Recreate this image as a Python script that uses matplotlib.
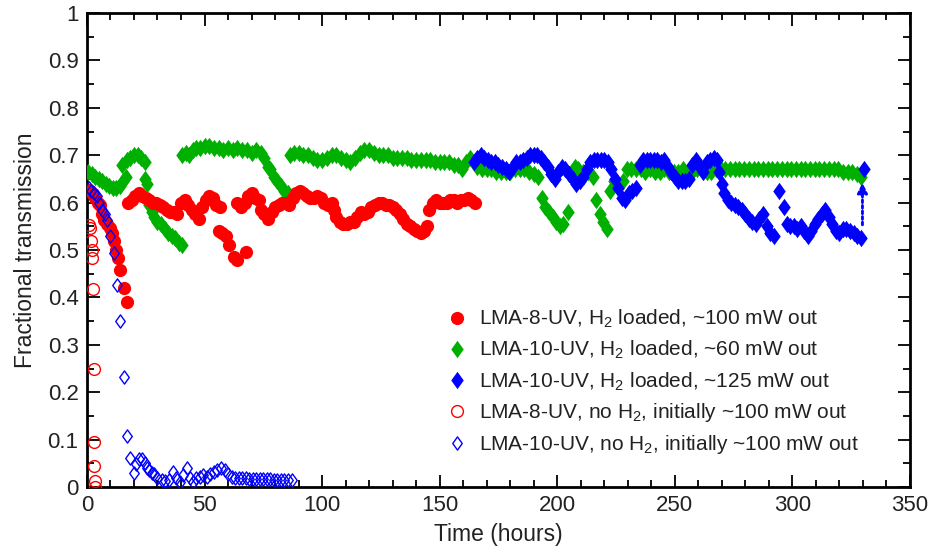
import numpy as np
import matplotlib
matplotlib.use('Agg')
import matplotlib.pyplot as plt
from matplotlib.path import Path
from matplotlib.ticker import MultipleLocator, FuncFormatter

plt.rcParams['font.family'] = ['Liberation Sans', 'DejaVu Sans']
plt.rcParams['mathtext.fontset'] = 'custom'
plt.rcParams['mathtext.rm'] = 'Liberation Sans'
plt.rcParams['mathtext.it'] = 'Liberation Sans'

# ====================================================================
# Data (time in hours, fractional transmission)
# ====================================================================
RED_H2 = [
    (0.7, 0.627), (2, 0.62), (3.5, 0.61), (4.5, 0.60), (5.6, 0.595), (6.5, 0.575),
    (7.1, 0.564), (8.5, 0.555), (9.9, 0.546), (10.6, 0.535), (11.3, 0.52), (12.3, 0.50),
    (13.4, 0.483), (14.1, 0.457), (15.6, 0.42), (17, 0.39),
    (17.5, 0.60), (19, 0.605), (20.5, 0.615), (22, 0.62), (23.5, 0.615), (25, 0.61),
    (26.5, 0.605), (28, 0.60), (29.5, 0.60), (31, 0.595), (32.5, 0.59), (34, 0.585),
    (35.5, 0.58), (37, 0.58), (38.5, 0.575), (40, 0.60), (41.5, 0.605), (43, 0.595),
    (44.5, 0.585), (46, 0.575), (47.5, 0.565), (49, 0.59), (50.5, 0.605), (52, 0.615),
    (53.5, 0.61), (55, 0.595), (56.5, 0.59), (56, 0.54), (57.5, 0.535), (59, 0.53),
    (60.5, 0.51), (62.5, 0.485), (64, 0.48), (67.5, 0.495),
    (64, 0.60), (65.5, 0.59), (67, 0.60), (68.5, 0.615), (70, 0.62), (71.5, 0.61),
    (73, 0.605), (74, 0.585), (75.5, 0.575), (77, 0.565), (78.5, 0.58), (80, 0.59),
    (81.5, 0.595), (83, 0.60), (84.5, 0.60), (86, 0.595), (87.5, 0.61), (89, 0.62),
    (90.5, 0.625), (92, 0.62), (93.5, 0.615), (95, 0.61), (96.5, 0.61), (98, 0.615),
    (99.5, 0.61), (101, 0.60), (102.5, 0.595), (104, 0.60), (105, 0.585), (106, 0.57),
    (107.5, 0.56), (109, 0.555), (110.5, 0.555), (112, 0.56), (113.5, 0.56), (115, 0.57),
    (116.5, 0.58), (118, 0.575), (119.5, 0.58), (121, 0.59), (122.5, 0.595), (124, 0.60),
    (125.5, 0.60), (127, 0.595), (128.5, 0.595), (130, 0.59), (131.5, 0.585), (133, 0.575),
    (134.5, 0.565), (136, 0.555), (137.5, 0.55), (139, 0.545), (140.5, 0.54), (142, 0.535),
    (143.5, 0.54), (144.5, 0.55), (145.5, 0.585), (147, 0.60), (148.5, 0.605), (150, 0.60),
    (151.5, 0.60), (153, 0.60), (154.5, 0.605), (156, 0.605), (157.5, 0.60), (159, 0.605),
    (160.5, 0.605), (162, 0.61), (163.5, 0.605), (165, 0.60),
]

GREEN_H2 = [
    (0.5, 0.665), (2, 0.66), (3.5, 0.655), (5, 0.65), (6.5, 0.645), (8, 0.64),
    (9.5, 0.635), (11, 0.63), (12.5, 0.63), (14, 0.635), (15.5, 0.645), (16.5, 0.655),
    (15, 0.68), (17, 0.69), (18.5, 0.695), (20, 0.70), (21.5, 0.70), (23, 0.695),
    (24.5, 0.685), (24.5, 0.65), (25.5, 0.64),
    (26.5, 0.595), (27.5, 0.58), (28.5, 0.57), (30, 0.56), (31.5, 0.555), (33, 0.545),
    (34.5, 0.535), (36, 0.53), (37.5, 0.525), (39, 0.515), (40.5, 0.51),
    (40.5, 0.70), (42, 0.705), (43.5, 0.70), (45, 0.71), (46.5, 0.715), (48, 0.715),
    (50, 0.72), (52, 0.72), (54, 0.715), (56, 0.715), (58, 0.71), (60, 0.715),
    (62, 0.71), (64, 0.715), (66, 0.71), (68, 0.71), (70, 0.705), (72, 0.71),
    (74, 0.705), (75.5, 0.695), (77, 0.675), (78, 0.67), (79.5, 0.655), (81, 0.645),
    (82.5, 0.635), (84, 0.625), (85.5, 0.62),
    (86.5, 0.70), (88, 0.705), (90, 0.705), (92, 0.70), (94, 0.70), (96, 0.695),
    (98, 0.69), (100, 0.69), (102, 0.695), (104, 0.70), (106, 0.70), (108, 0.695),
    (110, 0.69), (112, 0.685), (114, 0.695), (116, 0.705), (118, 0.71), (120, 0.71),
    (122, 0.705), (124, 0.70), (126, 0.70), (128, 0.70), (130, 0.695), (132, 0.695),
    (134, 0.695), (136, 0.695), (138, 0.69), (140, 0.69), (142, 0.69), (144, 0.69),
    (146, 0.69), (148, 0.685), (150, 0.685), (152, 0.685), (154, 0.685), (156, 0.68),
    (158, 0.68), (159.5, 0.67), (161, 0.685), (163, 0.695),
    (166, 0.675), (168, 0.67), (170, 0.67), (172, 0.67), (174, 0.665), (176, 0.665),
    (178, 0.665), (180, 0.665), (182, 0.67), (184, 0.67), (186, 0.67), (188, 0.665),
    (190, 0.66), (192, 0.655), (193.5, 0.61), (195, 0.59), (196.5, 0.58), (198, 0.57),
    (199.5, 0.56), (201, 0.55), (202.5, 0.555), (204.5, 0.58), (207.5, 0.675),
    (209, 0.67), (211, 0.665), (213, 0.665), (215, 0.655), (216.5, 0.605),
    (218, 0.575), (219.5, 0.56), (221, 0.545), (222.5, 0.625), (224, 0.645),
    (226, 0.635), (228, 0.645), (229.5, 0.67), (231.5, 0.67), (233.5, 0.67),
    (235.5, 0.67), (237.5, 0.665), (239.5, 0.67), (241.5, 0.665), (243.5, 0.665),
    (245.5, 0.67), (247.5, 0.665), (249.5, 0.665), (251.5, 0.665), (253.5, 0.67),
    (255.5, 0.665), (257.5, 0.665), (259.5, 0.67), (261.5, 0.67), (263.5, 0.665),
    (265.5, 0.665), (267.5, 0.67), (269.5, 0.67), (271.5, 0.67), (273.5, 0.67),
    (275.5, 0.67), (277.5, 0.67), (279.5, 0.67), (281.5, 0.67), (283.5, 0.67),
    (285.5, 0.67), (287.5, 0.67), (289.5, 0.67), (291.5, 0.67), (293.5, 0.67),
    (295.5, 0.67), (297.5, 0.67), (299.5, 0.67), (301.5, 0.67), (303.5, 0.67),
    (305.5, 0.67), (307.5, 0.67), (309.5, 0.67), (311.5, 0.67), (313.5, 0.67),
    (315.5, 0.67), (317.5, 0.67), (319.5, 0.67), (321.5, 0.665), (323.5, 0.665),
    (325.5, 0.665), (327.5, 0.66), (329, 0.655),
]

BLUE_H2 = [
    (164.5, 0.685), (166, 0.695), (167.5, 0.70), (169, 0.695), (170.5, 0.69), (172, 0.685),
    (173.5, 0.685), (175, 0.68), (176.5, 0.675), (178, 0.67), (179.5, 0.665), (181, 0.675),
    (182.5, 0.685), (184, 0.685), (185.5, 0.69), (187, 0.695), (188.5, 0.70), (190, 0.70),
    (191.5, 0.70), (193, 0.695), (194.5, 0.685), (196, 0.675), (197.5, 0.66), (199, 0.65),
    (200.5, 0.665), (202, 0.675), (203.5, 0.67), (205, 0.66), (206.5, 0.65), (208, 0.64),
    (209.5, 0.645), (211, 0.655), (212.5, 0.67), (214, 0.685), (215.5, 0.69), (217, 0.69),
    (218.5, 0.69), (220, 0.69), (221.5, 0.685), (223, 0.67), (224.5, 0.65), (226, 0.63),
    (227.5, 0.61), (229, 0.605), (230.5, 0.62), (232, 0.625), (233.5, 0.63), (235, 0.68),
    (236.5, 0.69), (238, 0.69), (239.5, 0.69), (241, 0.69), (242.5, 0.69), (244, 0.685),
    (245.5, 0.69), (247, 0.675), (248.5, 0.665), (250, 0.655), (251.5, 0.645), (253, 0.645),
    (254.5, 0.645), (256, 0.65), (257.5, 0.68), (259, 0.69), (260.5, 0.675), (262, 0.665),
    (263.5, 0.685), (265, 0.69), (266.5, 0.695), (268, 0.69), (269, 0.665), (270, 0.64),
    (271, 0.62), (272.5, 0.605), (274, 0.60), (275.5, 0.595), (277, 0.59), (278.5, 0.585),
    (280, 0.575), (281.5, 0.565), (283, 0.56), (284.5, 0.555), (286, 0.565), (287.5, 0.575),
    (289, 0.55), (290.5, 0.535), (292, 0.53), (294.5, 0.625), (296.5, 0.59), (297.5, 0.555),
    (299, 0.55), (300.5, 0.55), (302, 0.545), (303.5, 0.55), (305, 0.54), (306.5, 0.53),
    (308, 0.54), (309.5, 0.555), (311, 0.565), (312.5, 0.575), (314, 0.585), (315.5, 0.57),
    (317, 0.555), (318.5, 0.54), (320, 0.535), (321.5, 0.545), (323, 0.545), (324.5, 0.54),
    (326, 0.535), (327.5, 0.53), (329, 0.525), (330.5, 0.67),
]

RED_NO_H2 = [
    (1.0, 0.553), (1.3, 0.546), (1.8, 0.52), (2.0, 0.50), (2.2, 0.483), (2.4, 0.417),
    (2.8, 0.25), (3.0, 0.094), (3.2, 0.045), (3.4, 0.013), (3.6, 0.0),
]

BLUE_NO_H2 = [
    (0.8, 0.63), (1.9, 0.625), (3, 0.62), (4.2, 0.613), (5.3, 0.60), (6.4, 0.585),
    (7.5, 0.575), (8.5, 0.563), (9.9, 0.53), (11.3, 0.493), (12.7, 0.426), (14.1, 0.35),
    (15.6, 0.232), (17, 0.108), (18.4, 0.062), (19.8, 0.03), (21, 0.048), (22, 0.06),
    (23.3, 0.059), (24.5, 0.05), (25.4, 0.04), (26.5, 0.035), (27.5, 0.03), (28.4, 0.027),
    (30, 0.02), (31.8, 0.015), (33, 0.013), (34.7, 0.015), (36.7, 0.032), (38, 0.02),
    (39.5, 0.01), (41, 0.025), (42.5, 0.04), (44, 0.02), (45, 0.01), (46.5, 0.018),
    (48, 0.022), (49.5, 0.025), (51, 0.022), (52.5, 0.028), (54, 0.032), (55.5, 0.036),
    (57, 0.04), (58.5, 0.035), (60, 0.028), (61.5, 0.022), (63, 0.02), (64.5, 0.02),
    (66, 0.018), (67.5, 0.018), (69, 0.017), (70.5, 0.017), (72, 0.017), (73.5, 0.016),
    (75, 0.016), (76.5, 0.016), (78, 0.016), (79.5, 0.015), (81, 0.015), (82.5, 0.015),
    (84, 0.015), (85.5, 0.015), (87, 0.015),
]

LABELS = [
    'LMA-8-UV, H$_2$ loaded, ~100 mW out',
    'LMA-10-UV, H$_2$ loaded, ~60 mW out',
    'LMA-10-UV, H$_2$ loaded, ~125 mW out',
    'LMA-8-UV, no H$_2$, initially ~100 mW out',
    'LMA-10-UV, no H$_2$, initially ~100 mW out',
]

RED = '#FF0000'
GREEN = '#00B000'
BLUE = '#0000FF'
TEXT = '#222222'

# slightly narrow diamond, like the original plotting package
DIAMOND = Path([(0, 1), (0.72, 0), (0, -1), (-0.72, 0), (0, 1)],
               [Path.MOVETO, Path.LINETO, Path.LINETO, Path.LINETO, Path.CLOSEPOLY])

fig = plt.figure(figsize=(9.33, 5.54), dpi=100)
ax = fig.add_axes([0.0932, 0.1209, 0.8821, 0.8556])

t, v = np.array(GREEN_H2).T
h_green, = ax.plot(t, v, ls='none', marker=DIAMOND, ms=12.5, color=GREEN, mew=0, zorder=3)
t, v = np.array(RED_H2).T
h_red, = ax.plot(t, v, ls='none', marker='o', ms=9.5, color=RED, mew=0, zorder=4)
t, v = np.array(BLUE_H2).T
h_blue, = ax.plot(t, v, ls='none', marker=DIAMOND, ms=12.5, color=BLUE, mew=0, zorder=5)
t, v = np.array(RED_NO_H2).T
h_red_o, = ax.plot(t, v, ls='none', marker='o', ms=8.5, mfc='none', mec=RED, mew=1.0, zorder=6)
t, v = np.array(BLUE_NO_H2).T
h_blue_o, = ax.plot(t, v, ls='none', marker=DIAMOND, ms=9.5, mfc='none', mec=BLUE, mew=1.0, zorder=7)

# dotted arrow at the end of the blue series
ax.annotate('', xy=(329.8, 0.642), xytext=(329.8, 0.553),
            arrowprops=dict(arrowstyle='-|>,head_length=0.6,head_width=0.3',
                            color=BLUE, lw=2, ls=(0, (1, 1)), shrinkA=0, shrinkB=0),
            zorder=6)

ax.set_xlim(0, 350)
ax.set_ylim(0, 1)
ax.xaxis.set_major_locator(MultipleLocator(50))
ax.xaxis.set_minor_locator(MultipleLocator(10))
ax.yaxis.set_major_locator(MultipleLocator(0.1))
ax.yaxis.set_minor_locator(MultipleLocator(0.05))
ax.yaxis.set_major_formatter(FuncFormatter(lambda y, _: f'{y:g}'))
ax.tick_params(which='both', direction='in', top=True, right=True, width=1.3,
               colors='black', labelcolor=TEXT, labelsize=16, pad=6)
ax.tick_params(which='major', length=9)
ax.tick_params(which='minor', length=5)
for s in ax.spines.values():
    s.set_linewidth(2)

ax.set_xlabel('Time (hours)', fontsize=16.5, color=TEXT, labelpad=5)
ax.set_ylabel('Fractional transmission', fontsize=16.5, color=TEXT, labelpad=8)

ax.legend([h_red, h_green, h_blue, h_red_o, h_blue_o], LABELS,
          loc='upper left', bbox_to_anchor=(0.427, 0.395), frameon=False,
          fontsize=15, handlelength=1.0, handletextpad=0.55, labelspacing=0.42,
          borderaxespad=0, labelcolor=TEXT)

fig.savefig('out.png', dpi=100)
